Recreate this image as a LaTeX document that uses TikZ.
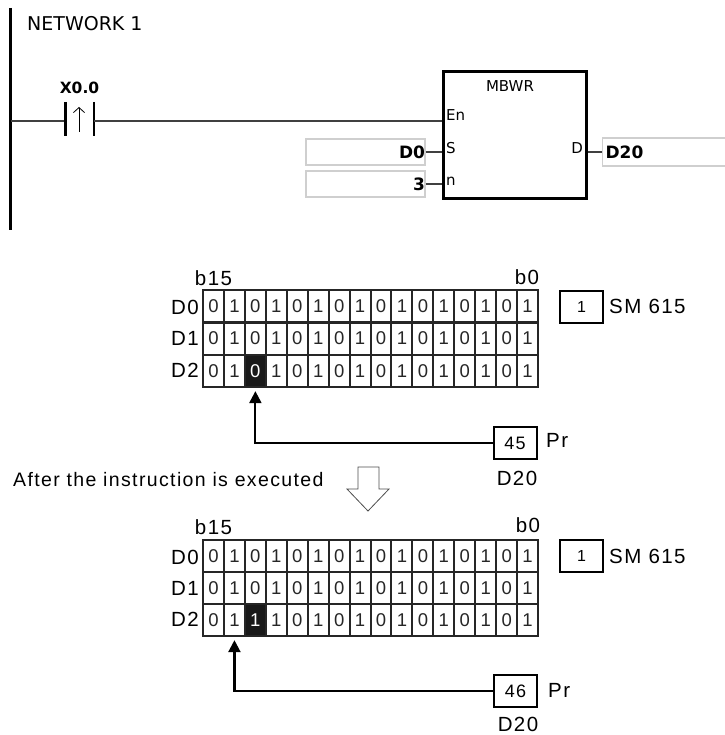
\documentclass[tikz,border=0pt]{standalone}
\usepackage{fontspec}
\setmainfont[LetterSpace=7]{Liberation Sans}
\newfontfamily\ladderfont{DejaVu Sans}
\usetikzlibrary{arrows.meta}
\definecolor{boxgray}{HTML}{CFCFCF}
\tikzset{cell/.style = {shape = rectangle, draw, line width = 2pt, black!85, text = black!85, minimum width = 20.94pt, minimum height = 32.3pt, inner sep = 0pt, font = \fontsize{18.5}{18.5}\selectfont}}
\tikzset{hotcell/.style = {cell, fill = black!90, text = white}}
\tikzset{tag/.style = {inner sep = 0pt, font = \fontsize{20.5}{20.5}\selectfont}}
\tikzset{valuebox/.style = {shape = rectangle, draw, line width = 2pt, inner sep = 0pt, minimum width = 43pt, minimum height = 32pt, font = \fontsize{16}{16}\selectfont}}
\tikzset{operand/.style = {shape = rectangle, draw = boxgray, line width = 1.2pt, inner xsep = 0pt, inner ysep = 0pt, minimum height = 26pt, text width = 119pt, align = right, font = \ladderfont\bfseries\fontsize{17}{17}\selectfont}}
\tikzset{pin/.style = {inner sep = 0pt, font = \ladderfont\fontsize{15}{15}\selectfont}}
\tikzset{wire/.style = {line width = 1.4pt, black!75}}
\tikzset{edge/.style = {-{Triangle[length = 12pt, width = 12pt]}, line width = 2.2pt, shorten > = 3pt}}

\begin{document}
\begin{tikzpicture}[x = 1pt, y = -1pt]
	\useasboundingbox (0, 0) rectangle (724, 735);

	\coordinate (railtop) at (10.5, 8);
	\coordinate (railbot) at (10.5, 230);
	\coordinate (rung) at (10.5, 121);
	\coordinate (contacta) at (65.5, 121);
	\coordinate (contactb) at (94, 121);
	\coordinate (contacttail) at (79, 132);
	\coordinate (contacthead) at (79, 107);

	\node[inner sep = 0pt, anchor = west, font = \ladderfont\fontsize{19}{19}\selectfont] (network) at (27, 24) {NETWORK 1};
	\node[inner sep = 0pt, font = \ladderfont\bfseries\fontsize{15.5}{15.5}\selectfont] (contactname) at (79.5, 88) {X0.0};
	\node[shape = rectangle, draw, line width = 3pt, minimum width = 143pt, minimum height = 127pt, inner sep = 0pt] (mbwr) at (514.5, 135.5) {};
	\node[pin] (mbwrname) at (510, 86) {MBWR};
	\node[pin, anchor = west] (pinen) at (446, 115) {En};
	\node[pin, anchor = west] (pins) at (446, 148) {S};
	\node[pin, anchor = west] (pinn) at (446, 181) {n};
	\node[pin, anchor = east] (pind) at (583, 148) {D};
	\node[operand] (dzero) at (365.5, 152) {D0\hspace{6pt}};
	\node[operand] (count) at (365.5, 184) {3\hspace{6pt}};
	\node[operand, minimum height = 28pt, anchor = west, text width = 126pt, align = left] (dest) at (602, 152) {\hspace{3pt}D20};

	\draw[line width = 2.5pt] (railtop) -- (railbot);
	\draw[wire] (rung) -- (contacta);
	\draw[line width = 2.5pt] ([yshift = 19pt] contacta) -- ([yshift = -15pt] contacta);
	\draw[line width = 2.5pt] ([yshift = 19pt] contactb) -- ([yshift = -15pt] contactb);
	\draw[-{Straight Barb[length = 5pt, width = 11pt]}, line width = .8pt] (contacttail) -- (contacthead);
	\draw[wire] (contactb) -- (mbwr.west |- contactb);
	\draw[wire] (dzero.east) -- (mbwr.west |- dzero.east);
	\draw[wire] (count.east) -- (mbwr.west |- count.east);
	\draw[wire] (mbwr.east |- dest.west) -- (dest.west);

	\foreach \r/\y in {0/306.5, 1/338.5, 2/371}
		\foreach \c in {0, ..., 15} {
			\pgfmathsetmacro{\x}{213.5 + 20.94 * \c}
			\pgfmathtruncatemacro{\bit}{mod(\c, 2)}
			\ifnum\r\c=22
				\node[hotcell] (a-\r-\c) at (\x, \y) {\raisebox{-2pt}{0}};
			\else
				\node[cell] (a-\r-\c) at (\x, \y) {\raisebox{-2pt}{\bit}};
			\fi
		}
	\foreach \r/\y in {0/556, 1/588, 2/620}
		\foreach \c in {0, ..., 15} {
			\pgfmathsetmacro{\x}{213.5 + 20.94 * \c}
			\pgfmathtruncatemacro{\bit}{mod(\c, 2)}
			\ifnum\r\c=22
				\node[hotcell] (b-\r-\c) at (\x, \y) {\raisebox{-2pt}{1}};
			\else
				\node[cell] (b-\r-\c) at (\x, \y) {\raisebox{-2pt}{\bit}};
			\fi
		}

	\node[tag] (ahigh) at (213.5, 278) {b15};
	\node[tag] (alow) at (527, 277) {b0};
	\node[tag, anchor = east] (arow0) at (199, 307) {D0};
	\node[tag, anchor = east] (arow1) at (199, 338) {D1};
	\node[tag, anchor = east] (arow2) at (199, 370) {D2};
	\node[tag] (bhigh) at (213.5, 527) {b15};
	\node[tag] (blow) at (528, 525) {b0};
	\node[tag, anchor = east] (brow0) at (199, 557) {D0};
	\node[tag, anchor = east] (brow1) at (199, 588) {D1};
	\node[tag, anchor = east] (brow2) at (199, 619) {D2};

	\node[valuebox] (aflag) at (581.5, 306.5) {1};
	\node[tag, anchor = west] (aflagname) at (609, 306) {SM 615};
	\node[valuebox] (bflag) at (581.5, 556) {1};
	\node[tag, anchor = west] (bflagname) at (609, 556) {SM 615};

	\node[valuebox, font = \fontsize{18}{18}\selectfont] (apr) at (515, 443) {45};
	\node[tag, anchor = west] (aprname) at (546, 440) {Pr};
	\node[tag] (areg) at (517, 478) {D20};
	\node[valuebox, line width = 1.4pt, font = \fontsize{18}{18}\selectfont] (bpr) at (515.5, 691) {46};
	\node[tag, anchor = west] (bprname) at (548, 690) {Pr};
	\node[tag] (breg) at (518, 724) {D20};

	\draw[edge] (apr.west) -| (a-2-2.south);
	\draw[edge] (bpr.west) -| (b-2-1.south);

	\node[tag, anchor = west, font = \fontsize{19.5}{19.5}\selectfont] (after) at (13, 480) {After the instruction is executed};
	\draw[line width = .8pt, black!70] (358, 467) -- (379, 467) -- (379, 489) -- (389, 489) -- (368, 511) -- (347, 489) -- (358, 489) -- cycle;
\end{tikzpicture}
\end{document}
